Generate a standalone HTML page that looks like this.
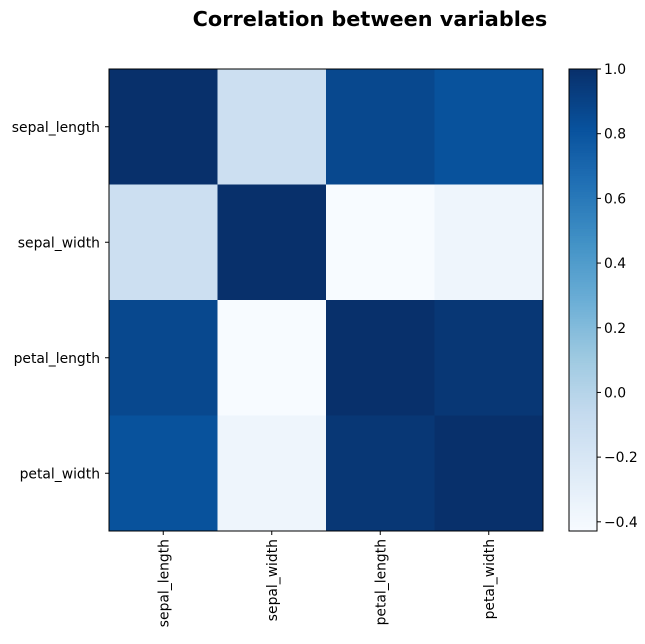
<!DOCTYPE html>
<html><head><meta charset="utf-8"><style>
body{margin:0;background:#fff;}
svg text{font-family:"DejaVu Sans","Liberation Sans",sans-serif;}
</style></head><body>
<svg id="chart" width="645" height="639" xmlns="http://www.w3.org/2000/svg">
<text x="370" y="26" text-anchor="middle" font-size="20.8" font-weight="bold">Correlation between variables</text>
<g id="cells"></g><g id="xlabels"></g><g id="ylabels"></g><g id="cbar"></g>
</svg>
<script>
const variables = ["sepal_length","sepal_width","petal_length","petal_width"];
const row0 = [1.0, -0.1176, 0.8718, 0.8179];
const row1 = [-0.1176, 1.0, -0.4284, -0.3661];
const row2 = [0.8718, -0.4284, 1.0, 0.9629];
const row3 = [0.8179, -0.3661, 0.9629, 1.0];
const matrix = [row0,row1,row2,row3];
const cbarTicks = [1.0,0.8,0.6,0.4,0.2,0.0,-0.2,-0.4];
const cbarTickLabels = ["1.0","0.8","0.6","0.4","0.2","0.0","−0.2","−0.4"];

const NS="http://www.w3.org/2000/svg";
const X0=109,X1=543,Y0=69,Y1=531;
let vmin=Infinity,vmax=-Infinity;
matrix.forEach(r=>r.forEach(v=>{vmin=Math.min(vmin,v);vmax=Math.max(vmax,v);}));
const stops=["#f7fbff","#deebf7","#c6dbef","#9ecae1","#6baed6","#4292c6","#2171b5","#08519c","#08306b"];
function hex(h){return [1,3,5].map(i=>parseInt(h.substr(i,2),16));}
function color(v){let t=(v-vmin)/(vmax-vmin);t=Math.max(0,Math.min(1,t));
 const p=t*(stops.length-1),i=Math.min(Math.floor(p),stops.length-2),f=p-i;
 const a=hex(stops[i]),b=hex(stops[i+1]);
 return "rgb("+a.map((c,k)=>Math.round(c+(b[k]-c)*f)).join(",")+")";}
const n=variables.length,cw=(X1-X0)/n,ch=(Y1-Y0)/n;
const xs=j=>X0+j*cw, ys=i=>Y0+i*ch;
function mk(tag,attrs,parent){const e=document.createElementNS(NS,tag);for(const k in attrs)e.setAttribute(k,attrs[k]);parent.appendChild(e);return e;}
const cells=document.getElementById("cells");
matrix.forEach((r,i)=>r.forEach((v,j)=>{
 const e=mk("rect",{x:xs(j),y:ys(i),width:cw+0.5,height:ch+0.5,fill:color(v)},cells);
 
 
}));
const fr=mk("rect",{x:X0,y:Y0,width:X1-X0,height:Y1-Y0,fill:"none",stroke:"#000","stroke-width":1},cells);


const xl=document.getElementById("xlabels"),yl=document.getElementById("ylabels");
const FS=13.9;
variables.forEach((name,k)=>{
 const cx=xs(k)+cw/2,cy=ys(k)+ch/2;
 mk("line",{x1:cx,x2:cx,y1:Y1,y2:Y1+4,stroke:"#000"},xl);
 const t=mk("text",{x:0,y:0,"font-size":FS,"text-anchor":"end",transform:"translate("+(cx+5)+","+(Y1+8)+") rotate(-90)"},xl);
 t.textContent=name;
 
 
 mk("line",{x1:X0-4,x2:X0,y1:cy,y2:cy,stroke:"#000"},yl);
 const u=mk("text",{x:X0-9,y:cy+5,"font-size":FS,"text-anchor":"end"},yl);
 u.textContent=name;
 
 
});
const cb=document.getElementById("cbar");const CX0=569,CX1=597;
const cy=v=>Y1-(v-vmin)/(vmax-vmin)*(Y1-Y0);
const steps=200;
for(let s=0;s<steps;s++){const v0=vmin+(vmax-vmin)*s/steps,v1=vmin+(vmax-vmin)*(s+1)/steps;
 mk("rect",{x:CX0,y:cy(v1),width:CX1-CX0,height:cy(v0)-cy(v1)+0.6,fill:color((v0+v1)/2)},cb);}
const cf=mk("rect",{x:CX0,y:Y0,width:CX1-CX0,height:Y1-Y0,fill:"none",stroke:"#000"},cb);


cbarTicks.forEach((v,k)=>{const y=cy(v);
 mk("line",{x1:CX1,x2:CX1+4,y1:y,y2:y,stroke:"#000"},cb);
 const t=mk("text",{x:CX1+7,y:y+5,"font-size":FS},cb);
 t.textContent=cbarTickLabels[k];
 
 
});
</script>
</body></html>
